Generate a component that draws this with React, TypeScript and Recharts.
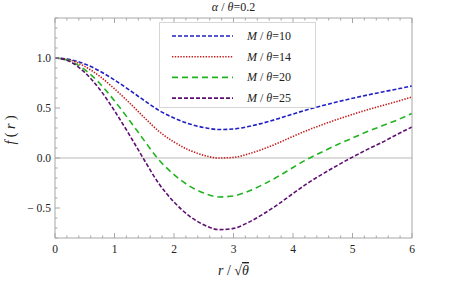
import React from "react";
import { LineChart, Line, XAxis, YAxis, ReferenceLine, Legend, Label } from "recharts";

// r / sqrt(theta)
const rValues = [0, 0.25, 0.5, 0.75, 1, 1.25, 1.5, 1.75, 2, 2.25, 2.5, 2.75, 3, 3.25, 3.5, 3.75, 4, 4.25, 4.5, 4.75, 5, 5.25, 5.5, 5.75, 6];

// f(r) for each M/theta
const m10 = [1.0, 0.985, 0.94, 0.87, 0.78, 0.68, 0.575, 0.475, 0.4, 0.343, 0.305, 0.285, 0.29, 0.315, 0.35, 0.393, 0.44, 0.485, 0.525, 0.562, 0.597, 0.63, 0.66, 0.69, 0.72];
const m14 = [1.0, 0.979, 0.916, 0.818, 0.692, 0.552, 0.405, 0.265, 0.16, 0.08, 0.027, 0.0, 0.006, 0.041, 0.09, 0.15, 0.216, 0.279, 0.335, 0.387, 0.436, 0.482, 0.524, 0.566, 0.61];
const m20 = [1.0, 0.971, 0.883, 0.747, 0.572, 0.378, 0.174, -0.021, -0.166, -0.277, -0.351, -0.39, -0.38, -0.332, -0.264, -0.184, -0.095, -0.009, 0.064, 0.135, 0.2, 0.264, 0.322, 0.38, 0.445];
const m25 = [1.0, 0.964, 0.856, 0.688, 0.472, 0.232, -0.02, -0.26, -0.44, -0.577, -0.668, -0.716, -0.704, -0.644, -0.56, -0.463, -0.355, -0.251, -0.159, -0.073, 0.009, 0.086, 0.157, 0.236, 0.31];

const massLabels = ["10", "14", "20", "25"];
const xMajor = [0, 1, 2, 3, 4, 5, 6];
const yMajor = [-0.5, 0, 0.5, 1.0];
const yLabels = ["\u2212 0.5", "0.0", "0.5", "1.0"];

const series = [
  { key: "m10", values: m10, color: "#2020c4", dash: "4 2" },
  { key: "m14", values: m14, color: "#c41e1e", dash: "1.4 1.4" },
  { key: "m20", values: m20, color: "#1fb41f", dash: "6 4" },
  { key: "m25", values: m25, color: "#5e0f72", dash: "4 2" },
];

const data = rValues.map((r, i) => {
  const row: Record<string, number> = { r };
  series.forEach(s => (row[s.key] = s.values[i]));
  return row;
});

const xTicks = Array.from({ length: 31 }, (_, i) => Math.round(i * 2) / 10);
const yTicks = Array.from({ length: 23 }, (_, i) => Math.round(-8 + i) / 10);

const serif = "'Liberation Serif', 'DejaVu Serif', serif";
const frame = "#a6a6a6";
const ink = "#222";

const isMajorX = (v: number) => xMajor.some(m => Math.abs(m - v) < 1e-6);
const isMajorY = (v: number) => yMajor.some(m => Math.abs(m - v) < 1e-6);

function BottomTick({ x, y, payload }: any) {
  const major = isMajorX(payload.value);
  return (
    <g>
      <line x1={x} x2={x} y1={y} y2={y - (major ? 5 : 2.5)} stroke={frame} />
      {major && (
        <text x={x} y={y + 15} textAnchor='middle' fontSize={11.5} fontFamily={serif} fill={ink}>
          {payload.value}
        </text>
      )}
    </g>
  );
}

function TopTick({ x, y, payload }: any) {
  const major = isMajorX(payload.value);
  return <line x1={x} x2={x} y1={y} y2={y + (major ? 5 : 2.5)} stroke={frame} />;
}

function LeftTick({ x, y, payload }: any) {
  const major = isMajorY(payload.value);
  const idx = yMajor.findIndex(m => Math.abs(m - payload.value) < 1e-6);
  return (
    <g>
      <line x1={x} x2={x + (major ? 5 : 2.5)} y1={y} y2={y} stroke={frame} />
      {major && (
        <text x={x - 4} y={y + 4} textAnchor='end' fontSize={11.5} fontFamily={serif} fill={ink}>
          {yLabels[idx]}
        </text>
      )}
    </g>
  );
}

function RightTick({ x, y, payload }: any) {
  const major = isMajorY(payload.value);
  return <line x1={x} x2={x - (major ? 5 : 2.5)} y1={y} y2={y} stroke={frame} />;
}

function renderLegend() {
  return (
    <svg width={157} height={86} style={{ display: "block" }}>
      <rect x={0.5} y={0.5} width={156} height={85} fill='#fff' stroke='#d6d6d6' />
      {series.map((s, i) => {
        const cy = 14 + i * 20.7;
        return (
          <g key={s.key}>
            <line x1={13} x2={74} y1={cy} y2={cy} stroke={s.color} strokeWidth={1.6} strokeDasharray={s.dash} />
            <text x={88} y={cy + 4} fontSize={12} fontFamily={serif} fill={ink}>
              <tspan fontStyle='italic'>M</tspan>
              <tspan> / </tspan>
              <tspan fontStyle='italic'>θ</tspan>
              <tspan>={massLabels[i]}</tspan>
            </text>
          </g>
        );
      })}
    </svg>
  );
}

export default function App() {
  return (
    <div style={{ width: 457, height: 285, background: "#fff" }}>
      <style>{"body{margin:0}"}</style>
      <LineChart width={457} height={285} data={data} margin={{ top: 0, right: 0, bottom: 0, left: 0 }}>
        <XAxis
          dataKey='r'
          type='number'
          domain={[0, 6]}
          ticks={xTicks}
          interval={0}
          height={47}
          tickSize={0}
          tickMargin={0}
          tickLine={false}
          stroke={frame}
          tick={BottomTick}
        >
          <Label
            content={({ viewBox }: any) => {
              const cx = viewBox.x + viewBox.width / 2;
              const y = viewBox.y + 37;
              return (
                <text x={cx} y={y} textAnchor='middle' fontSize={14} fontFamily={serif} fill={ink}>
                  <tspan fontStyle='italic'>r</tspan>
                  <tspan> / √</tspan>
                  <tspan fontStyle='italic' style={{ textDecoration: "overline" }}>θ</tspan>
                </text>
              );
            }}
          />
        </XAxis>
        <XAxis
          xAxisId='top'
          orientation='top'
          dataKey='r'
          type='number'
          domain={[0, 6]}
          ticks={xTicks}
          interval={0}
          height={18}
          tickSize={0}
          tickMargin={0}
          tickLine={false}
          stroke={frame}
          tick={TopTick}
        >
          <Label
            content={({ viewBox }: any) => (
              <text x={viewBox.x + viewBox.width / 2} y={viewBox.y + viewBox.height - 7} textAnchor='middle' fontSize={12} fontFamily={serif} fill={ink}>
                <tspan fontStyle='italic'>α</tspan>
                <tspan> / </tspan>
                <tspan fontStyle='italic'>θ</tspan>
                <tspan>=0.2</tspan>
              </text>
            )}
          />
        </XAxis>
        <YAxis
          type='number'
          domain={[-0.8, 1.4]}
          ticks={yTicks}
          interval={0}
          width={55}
          tickSize={0}
          tickMargin={0}
          tickLine={false}
          stroke={frame}
          tick={LeftTick}
        >
          <Label
            content={({ viewBox }: any) => {
              const x = viewBox.x + viewBox.width - 40;
              const y = viewBox.y + viewBox.height / 2 + 2;
              return (
                <text x={x} y={y} transform={`rotate(-90 ${x} ${y})`} textAnchor='middle' fontSize={14} fontFamily={serif} fill={ink}>
                  <tspan fontStyle='italic'>f</tspan>
                  <tspan> ( </tspan>
                  <tspan fontStyle='italic'>r</tspan>
                  <tspan> )</tspan>
                </text>
              );
            }}
          />
        </YAxis>
        <YAxis
          yAxisId='right'
          orientation='right'
          type='number'
          domain={[-0.8, 1.4]}
          ticks={yTicks}
          interval={0}
          width={45}
          tickSize={0}
          tickMargin={0}
          tickLine={false}
          stroke={frame}
          tick={RightTick}
        />
        <ReferenceLine y={0} stroke='#d0d0d0' strokeWidth={1.5} />
        {series.map(s => (
          <Line
            key={s.key}
            dataKey={s.key}
            type='monotone'
            stroke={s.color}
            strokeWidth={1.6}
            strokeDasharray={s.dash}
            dot={false}
            isAnimationActive={false}
          />
        ))}
        <Legend
          layout='vertical'
          align='center'
          verticalAlign='middle'
          content={renderLegend}
          wrapperStyle={{ left: 159, top: 22, width: 157, height: 86 }}
        />
      </LineChart>
    </div>
  );
}
